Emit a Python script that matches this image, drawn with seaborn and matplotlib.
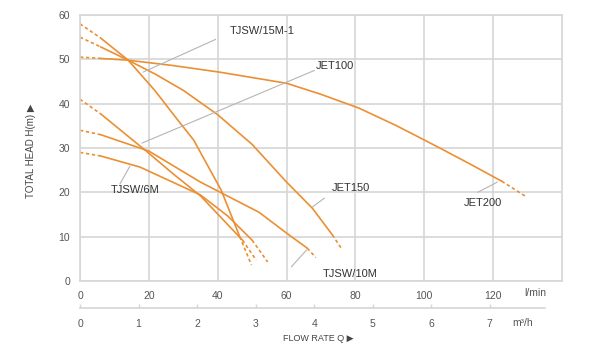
#!/usr/bin/env python3
# -*- coding: utf-8 -*-

"""
Pump performance curves (head vs flow rate)
"""

import pandas as pd
import seaborn as sns
import matplotlib.pyplot as plt

# flow rate Q (l/min) and head H (m)
tjsw15_q = [0, 6, 14, 21.7, 28.4, 33, 41, 46.4, 49.8]
tjsw15_h = [58, 54.8, 49.8, 43, 36.3, 31.8, 20.5, 10, 3.6]

jet150_q = [0, 6, 14, 22, 30, 40, 50, 60, 67.5, 73.3, 76.2]
jet150_h = [55, 52.8, 49.8, 46.6, 43, 37.5, 30.8, 22.3, 16.4, 10.4, 7]

jet200_q = [0, 6, 14, 27, 40.6, 60, 70, 81, 92, 104, 113, 122.5, 129.6]
jet200_h = [50.5, 50.2, 49.8, 48.6, 47.1, 44.6, 42.1, 39, 35, 30.2, 26.5, 22.5, 19]

jet100_q = [0, 6, 19.7, 27, 35, 47.2, 51.2]
jet100_h = [41, 37.7, 29, 24.2, 19.2, 9.2, 4.7]

tjsw10_q = [0, 6, 20, 35, 52, 60, 66, 68.5]
tjsw10_h = [34, 33, 29.3, 22.3, 15.5, 10.8, 7.4, 5.3]

tjsw6_q = [0, 6, 17.4, 35, 43, 50, 54.5]
tjsw6_h = [29, 28.2, 25.7, 19.4, 14.6, 9.2, 4.3]

pumps = {
    "TJSW/15M-1": (tjsw15_q, tjsw15_h),
    "JET150": (jet150_q, jet150_h),
    "JET200": (jet200_q, jet200_h),
    "JET100": (jet100_q, jet100_h),
    "TJSW/10M": (tjsw10_q, tjsw10_h),
    "TJSW/6M": (tjsw6_q, tjsw6_h),
}

# label text position and the point the leader line touches
labels = [
    ("TJSW/15M-1", (43.5, 56.5), (39.4, 54.5), (18.3, 47.1)),
    ("JET100", (68.5, 48.5), (68.1, 47.5), (18.0, 31.1)),
    ("TJSW/6M", (9.0, 20.5), (14.5, 25.9), (11.6, 21.9)),
    ("JET150", (73.0, 21.0), (71.0, 18.7), (67.5, 16.7)),
    ("TJSW/10M", (70.5, 1.6), (65.8, 7.0), (61.4, 3.2)),
    ("JET200", (111.5, 17.5), (121.2, 22.3), (115.5, 20.0)),
]

LMIN_PER_M3H = 17.0  # as drawn on the chart's second scale

orange = "#eb8f33"
grid_c = "#d6d6d6"
text_c = "#555555"


def build_frame():
    """
    Split every curve into dashed start, solid body and dashed tail
    """
    rows = []
    for name, (q, h) in pumps.items():
        n = len(q)
        parts = [("dashed", 0, 2), ("solid", 1, n - 1), ("dashed", n - 2, n)]
        for i, (style, a, b) in enumerate(parts):
            for x, y in zip(q[a:b], h[a:b]):
                rows.append({"seg": name + str(i), "part": style, "q": x, "h": y})
    return pd.DataFrame(rows)


sns.set_style("white")
plt.rcParams["font.family"] = ["Liberation Sans", "DejaVu Sans"]

fig = plt.figure(figsize=(5.9, 3.56), dpi=100)
ax = fig.add_axes([0.1356, 0.2107, 0.817, 0.7472])

df = build_frame()
sns.lineplot(data=df, x="q", y="h", units="seg", estimator=None, sort=False,
             style="part", dashes={"solid": "", "dashed": (2, 1.6)},
             color=orange, linewidth=1.2, legend=False, ax=ax)

ax.set_xlim(0, 140)
ax.set_ylim(0, 60)
ax.set_xticks(range(0, 140, 20))
ax.set_yticks(range(0, 61, 10))
ax.grid(True, color=grid_c, linewidth=1.2)
ax.set_axisbelow(True)
for s in ax.spines.values():
    s.set_color(grid_c)
    s.set_linewidth(1.2)
ax.tick_params(axis="both", length=4, width=1.2, color=grid_c, labelcolor=text_c,
               labelsize=7.5, pad=3)
ax.set_xlabel("")
ax.set_ylabel("")
ax.set_xticklabels(["0", "20", "40", "60", "80", "100", "120"])

# second flow scale in m3/h
sec = ax.secondary_xaxis(-0.1015, functions=(lambda q: q / LMIN_PER_M3H,
                                             lambda m: m * LMIN_PER_M3H))
sec.set_xticks(range(0, 8))
sec.spines["bottom"].set_color(grid_c)
sec.spines["bottom"].set_linewidth(1.2)
sec.spines["bottom"].set_bounds(0, 135 / LMIN_PER_M3H)
sec.tick_params(axis="x", direction="in", length=3, width=1.0, color=grid_c,
                labelcolor=text_c, labelsize=7.5, pad=8)

# curve names with leader lines
for name, txt_pos, start, end in labels:
    ax.annotate("", xy=end, xytext=start,
                arrowprops=dict(arrowstyle="-", color="#b5b5b5", lw=0.8,
                                shrinkA=0, shrinkB=0))
    ax.text(txt_pos[0], txt_pos[1], name, fontsize=8, color="#333333",
            ha="left", va="center")

# axis captions
fig.text(0.889, 0.177, "l/min", fontsize=7.5, color=text_c, ha="left", va="center")
fig.text(0.868, 0.093, "m³/h", fontsize=7.5, color=text_c, ha="left", va="center")
fig.text(0.54, 0.048, "FLOW RATE Q \u25b6", fontsize=6.5, color="#444444",
         ha="center", va="center")
fig.text(0.052, 0.575, "TOTAL HEAD H(m) \u25b6", fontsize=7, color="#444444",
         ha="center", va="center", rotation=90)

fig.savefig("out.png", dpi=100, facecolor="white")
